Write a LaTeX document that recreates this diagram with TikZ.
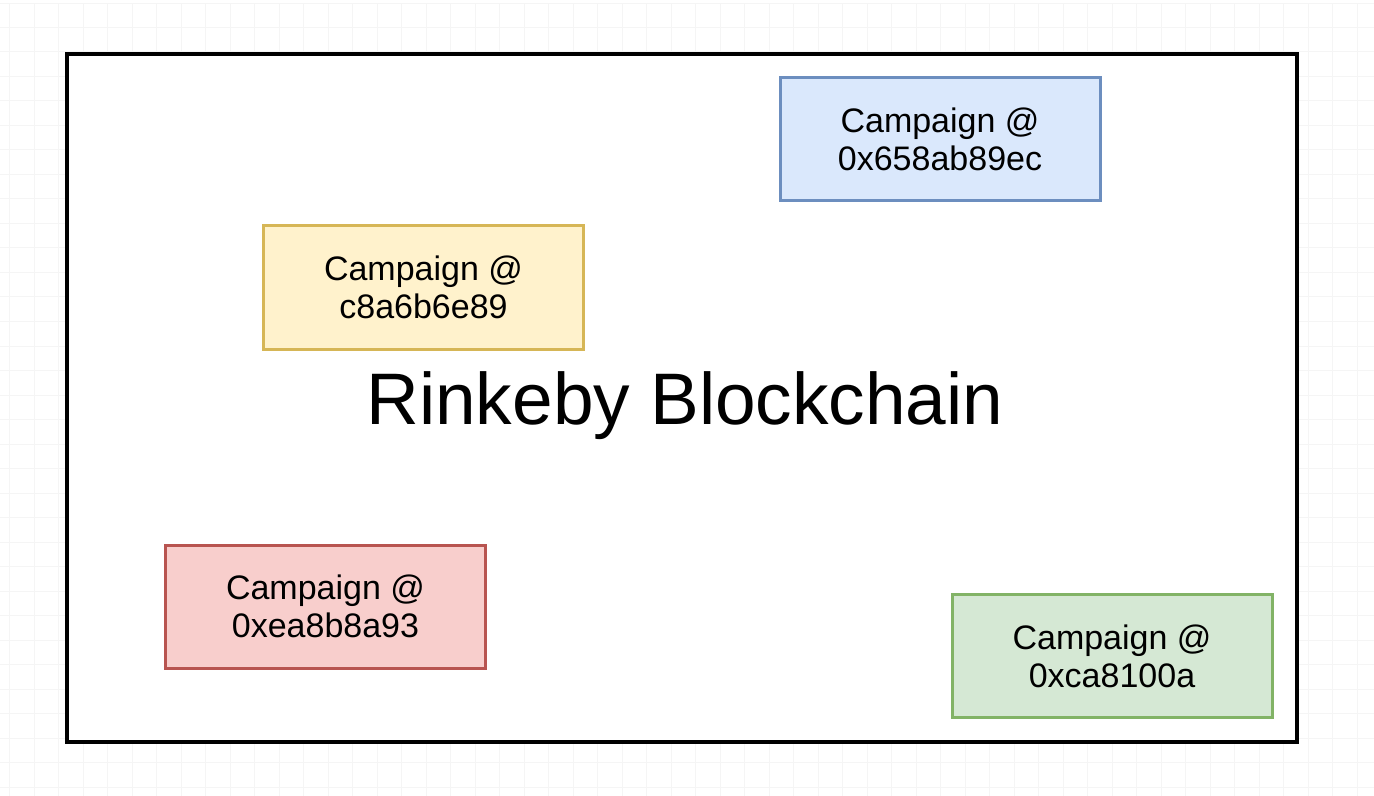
\documentclass[tikz,border=0pt]{standalone}
\usepackage{fontspec}
\setmainfont{Liberation Sans}
\definecolor{blueFill}{HTML}{DAE8FC}
\definecolor{blueLine}{HTML}{6C8EBF}
\definecolor{yellowFill}{HTML}{FFF2CC}
\definecolor{yellowLine}{HTML}{D6B656}
\definecolor{redFill}{HTML}{F8CECC}
\definecolor{redLine}{HTML}{B85450}
\definecolor{greenFill}{HTML}{D5E8D4}
\definecolor{greenLine}{HTML}{82B366}
\tikzset{
  campaign/.style={draw, line width=1.5pt, minimum width=160pt, minimum height=61.5pt,
    align=center, font=\fontsize{17}{19}\selectfont},
}

\begin{document}
\begin{tikzpicture}[x=0.5pt,y=-0.5pt]
\useasboundingbox (0,0) rectangle (1374,796);
\fill[white] (0,0) rectangle (1374,796);
\draw[black!4, line width=0.5pt, xshift=-7.5pt, yshift=-1.5pt] (0,0) grid[step=12.25pt] (1400,820);
\node[draw, line width=2pt, fill=white, minimum width=615pt, minimum height=344pt] (chain) at (682,398) {};
\node[anchor=base, font=\fontsize{36.5}{40}\selectfont] (title) at (685,424) {Rinkeby Blockchain};
\node[campaign, fill=blueFill, draw=blueLine] (c1) at (940,139.5) {Campaign @\\0x658ab89ec};
\node[campaign, fill=yellowFill, draw=yellowLine] (c2) at (423.5,287.5) {Campaign @\\c8a6b6e89};
\node[campaign, fill=redFill, draw=redLine] (c3) at (325.5,606.5) {Campaign @\\0xea8b8a93};
\node[campaign, fill=greenFill, draw=greenLine] (c4) at (1112,656) {Campaign @\\0xca8100a};
\end{tikzpicture}
\end{document}
